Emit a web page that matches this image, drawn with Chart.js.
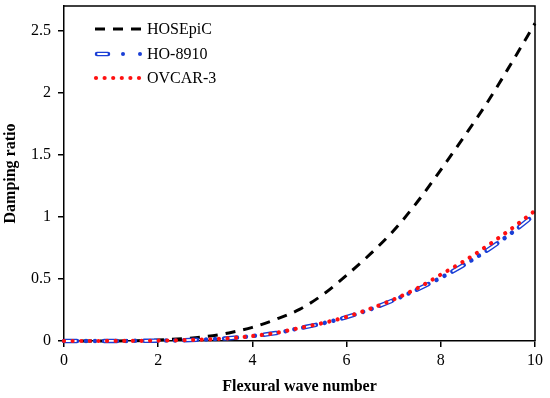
<!DOCTYPE html>
<html>
<head>
<meta charset="utf-8">
<script src="https://cdn.jsdelivr.net/npm/chart.js@4.4.0/dist/chart.umd.min.js"></script>
<style>
  body { margin: 0; background: #fff; }
</style>
</head>
<body>
<canvas id="dampingChart" width="550" height="398"></canvas>
<script>
// values
const waveNumbers = [0, 0.5, 1, 1.5, 2, 2.5, 3, 3.5, 4, 4.5, 5, 5.5, 6, 6.5, 7, 7.5, 8, 8.5, 9, 9.5, 10];
const hosepic = [0, 0, 0.0005, 0.002, 0.008, 0.018, 0.035, 0.065, 0.11, 0.175, 0.255, 0.375, 0.53, 0.70, 0.89, 1.12, 1.38, 1.65, 1.93, 2.24, 2.56];
const ho8910  = [0, 0, 0.0003, 0.001, 0.003, 0.006, 0.012, 0.022, 0.04, 0.064, 0.103, 0.143, 0.192, 0.255, 0.33, 0.415, 0.51, 0.615, 0.735, 0.87, 1.02];
const ovcar3  = [0, 0, 0.0003, 0.001, 0.003, 0.006, 0.012, 0.022, 0.04, 0.065, 0.105, 0.145, 0.195, 0.26, 0.335, 0.425, 0.535, 0.645, 0.77, 0.905, 1.05];
const seriesNames = ['HOSEpiC', 'HO-8910', 'OVCAR-3'];
const xTicks = [0, 2, 4, 6, 8, 10];
const yTicks = [0, 0.5, 1, 1.5, 2, 2.5];

const FONT = "'Liberation Serif', 'Times New Roman', serif";
const pts = arr => arr.map((v, i) => ({ x: waveNumbers[i], y: v }));

// top + right frame lines and the hand-drawn legend
const framePlugin = {
    id: 'frame',
    afterDraw(chart) {
        const { ctx, chartArea: a } = chart;
        ctx.save();
        ctx.strokeStyle = '#000';
        ctx.lineWidth = 1.5;
        ctx.beginPath();
        ctx.moveTo(a.left, a.top);
        ctx.lineTo(a.right, a.top);
        ctx.lineTo(a.right, a.bottom);
        ctx.stroke();

        // legend
        ctx.font = '16px ' + FONT;
        ctx.fillStyle = '#000';
        ctx.textBaseline = 'middle';
        const rows = [29, 54, 78];

        ctx.lineWidth = 3;
        ctx.setLineDash([10, 8]);
        ctx.beginPath();
        ctx.moveTo(95, rows[0]);
        ctx.lineTo(142, rows[0]);
        ctx.stroke();

        ctx.setLineDash([]);
        ctx.lineCap = 'round';
        ctx.strokeStyle = '#1a3fd6';
        ctx.lineWidth = 4.5;
        ctx.beginPath();
        ctx.moveTo(97, rows[1]);
        ctx.lineTo(108, rows[1]);
        ctx.stroke();
        ctx.strokeStyle = '#fff';
        ctx.lineWidth = 1.8;
        ctx.beginPath();
        ctx.moveTo(98, rows[1]);
        ctx.lineTo(107, rows[1]);
        ctx.stroke();
        ctx.fillStyle = '#1a3fd6';
        [123, 140].forEach(x => {
            ctx.beginPath();
            ctx.arc(x, rows[1], 2, 0, Math.PI * 2);
            ctx.fill();
        });

        ctx.fillStyle = '#ff1010';
        for (let i = 0; i < 6; i++) {
            ctx.beginPath();
            ctx.arc(96 + i * 8.6, rows[2], 2.1, 0, Math.PI * 2);
            ctx.fill();
        }

        ctx.fillStyle = '#000';
        seriesNames.forEach((name, i) => ctx.fillText(name, 147, rows[i] + 1));
        ctx.restore();
    }
};

new Chart(document.getElementById('dampingChart').getContext('2d'), {
    type: 'line',
    data: {
        datasets: [
            {
                label: seriesNames[2],
                data: pts(ovcar3),
                borderColor: '#ff1010',
                borderWidth: 4.2,
                borderDash: [0.01, 8.6],
                borderCapStyle: 'round',
                order: 0
            },
            {
                label: seriesNames[1] + ' inner',
                data: pts(ho8910),
                borderColor: '#ffffff',
                borderWidth: 1.8,
                borderDash: [11, 29.02],
                borderDashOffset: -1,
                borderCapStyle: 'round',
                order: 1
            },
            {
                label: seriesNames[1],
                data: pts(ho8910),
                borderColor: '#1a3fd6',
                borderWidth: 4.5,
                borderDash: [13, 9, 0.01, 9, 0.01, 9],
                borderCapStyle: 'round',
                order: 2
            },
            {
                label: seriesNames[0],
                data: pts(hosepic),
                borderColor: '#000',
                borderWidth: 3,
                borderDash: [10, 8],
                order: 3
            }
        ]
    },
    options: {
        responsive: false,
        animation: false,
        layout: { padding: { top: 6, right: 15, left: 0, bottom: 0 } },
        datasets: {
            line: {
                pointRadius: 0,
                fill: false,
                cubicInterpolationMode: 'monotone',
                clip: false
            }
        },
        plugins: {
            legend: { display: false },
            tooltip: { enabled: false }
        },
        scales: {
            x: {
                type: 'linear',
                min: 0,
                max: 10,
                afterFit: s => { s.height = 57; },
                afterBuildTicks: s => { s.ticks = xTicks.map(v => ({ value: v })); },
                ticks: { color: '#000', font: { family: FONT, size: 16 }, padding: 4, maxRotation: 0 },
                grid: { drawOnChartArea: false, drawTicks: true, tickLength: 6, color: '#000', lineWidth: 1.5 },
                border: { color: '#000', width: 1.5 },
                title: {
                    display: true,
                    text: 'Flexural wave number',
                    color: '#000',
                    font: { family: FONT, size: 16, weight: 'bold' },
                    padding: { top: 0, bottom: 2 }
                }
            },
            y: {
                min: 0,
                max: 2.7,
                afterFit: s => { s.width = 64; s.paddingTop = 0; s.paddingBottom = 0; },
                afterBuildTicks: s => { s.ticks = yTicks.map(v => ({ value: v })); },
                ticks: {
                    color: '#000',
                    font: { family: FONT, size: 16 },
                    padding: 7,
                    callback: v => String(v)
                },
                grid: { drawOnChartArea: false, drawTicks: true, tickLength: 6, color: '#000', lineWidth: 1.5 },
                border: { color: '#000', width: 1.5 },
                title: {
                    display: true,
                    text: 'Damping ratio',
                    color: '#000',
                    font: { family: FONT, size: 16, weight: 'bold' },
                    padding: { top: 1, bottom: 0 }
                }
            }
        }
    },
    plugins: [framePlugin]
});
</script>
</body>
</html>
